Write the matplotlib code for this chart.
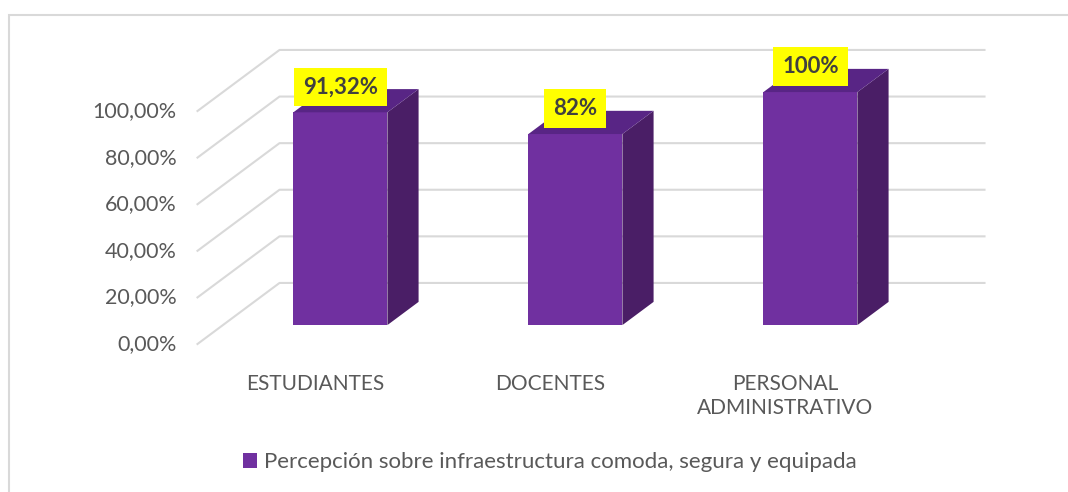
import matplotlib.pyplot as plt
from matplotlib.patches import Polygon, Rectangle, Patch

categorias = ["ESTUDIANTES", "DOCENTES", "PERSONAL\nADMINISTRATIVO"]
valores = [91.32, 82, 100]
etiquetas = ["91,32%", "82%", "100%"]
ticks = [0, 20, 40, 60, 80, 100]
tick_labels = ["0,00%", "20,00%", "40,00%", "60,00%", "80,00%", "100,00%"]
serie = "Percepción sobre infraestructura comoda, segura y equipada"

morado = "#7030A0"
morado_lado = "#4A1E66"
morado_tope = "#582585"
gris_txt = "#595959"
gris_grid = "#D9D9D9"

plt.rcParams["font.family"] = ["Lato", "DejaVu Sans"]

fig = plt.figure(figsize=(10.68, 4.92), dpi=100)
ax = fig.add_axes([0, 0, 1, 1])
ax.set_xlim(-1.3404, 3.2043)
ax.set_ylim(-63.52, 147.64)
ax.axis("off")

# borde del grafico
fig.patches.append(Rectangle((9 / 1068, -0.1), 1.2, 1 - 15 / 492 + 0.1,
                             transform=fig.transFigure, fill=False,
                             edgecolor=gris_grid, lw=1.5))

# profundidad del efecto 3D
DX = 0.349
DY = 26.2
x0, x1 = -0.5, 2.5
f = 0.31   # posicion de la cara frontal de la barra
d = 0.38   # grosor de la barra
w = 0.4

for t, lab in zip(ticks, tick_labels):
    # pared izquierda y pared del fondo
    ax.plot([x0, x0 + DX, x1 + DX], [t, t + DY, t + DY], color=gris_grid, lw=1.5, zorder=1)
    ax.text(x0 - 0.09, t, lab, ha="right", va="center", fontsize=15.5, color=gris_txt)

for i, (v, et) in enumerate(zip(valores, etiquetas)):
    xl = i - w / 2 + f * DX
    xr = i + w / 2 + f * DX
    yb = f * DY
    yt = v + f * DY
    ax.add_patch(Rectangle((xl, yb), w, v, facecolor=morado, edgecolor="none", zorder=3))
    ax.add_patch(Polygon([(xr, yb), (xr + d * DX, yb + d * DY), (xr + d * DX, yt + d * DY), (xr, yt)],
                         facecolor=morado_lado, edgecolor="none", zorder=3))
    ax.add_patch(Polygon([(xl, yt), (xr, yt), (xr + d * DX, yt + d * DY), (xl + d * DX, yt + d * DY)],
                         facecolor=morado_tope, edgecolor="none", zorder=3))
    ax.text(i + f * DX, v + 19, et, ha="center", va="center", fontsize=16, fontweight="bold",
            color="#404040", zorder=5,
            bbox=dict(boxstyle="square,pad=0.4", facecolor="#FFFF00", edgecolor="none"))
    ax.text(i, -13, categorias[i], ha="center", va="top", fontsize=15, color=gris_txt,
            linespacing=1.25)

ax.legend(handles=[Patch(facecolor=morado, label=serie)], loc="center",
          bbox_to_anchor=(0.5145, 0.061), bbox_transform=fig.transFigure,
          frameon=False, fontsize=16, labelcolor=gris_txt,
          handlelength=0.65, handleheight=0.65, handletextpad=0.3)

fig.savefig("out.png", dpi=100)
